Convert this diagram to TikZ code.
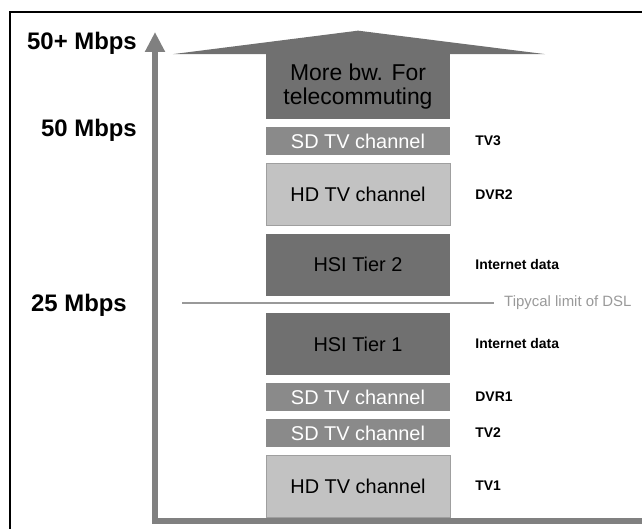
\documentclass[tikz,border=0pt]{standalone}
\usepackage{fontspec}
\setmainfont{Liberation Sans}
\usetikzlibrary{positioning,arrows.meta}

\definecolor{darkbox}{gray}{0.44}
\definecolor{midbox}{gray}{0.54}
\definecolor{lightbox}{gray}{0.76}
\definecolor{axisgray}{gray}{0.5}
\definecolor{dslgray}{gray}{0.6}

\tikzset{
  chan/.style={rectangle,minimum width=184bp,inner sep=0pt,font=\fontsize{20}{22}\selectfont},
  sd/.style={chan,fill=midbox,text=white,minimum height=27.5bp},
  hd/.style={chan,fill=lightbox,draw=gray!75,minimum height=62bp},
  hsi/.style={chan,fill=darkbox,minimum height=62bp},
  usage/.style={inner sep=0pt,font=\bfseries\fontsize{14}{16}\selectfont},
  rate/.style={anchor=east,inner sep=0pt,font=\bfseries\fontsize{24}{26}\selectfont},
  axis/.style={draw=axisgray,line width=6bp,line join=miter,-{Triangle[width=19bp,length=20bp]}},
}

\begin{document}
\begin{tikzpicture}[x=1bp,y=-1bp,node distance=8bp]
\useasboundingbox (0,0) rectangle (642,529);
\draw[line width=1.2bp] (10,529) -- (10,12) -- (642,12);

% axis
\coordinate (top) at (155,32);
\coordinate (origin) at (155,521);
\coordinate (far) at (642,521);
\draw[axis] (far) -- (origin) -- (top);

\node[rate](r50p) at (137,43) {50+ Mbps};
\node[rate](r50) at (137,130) {50 Mbps};
\node[rate](r25) at (127,305) {25 Mbps};

% channels
\node[sd](sd3) at (358,141) {SD TV channel};
\node[hd](hd2)[below=of sd3] {HD TV channel};
\node[hsi](hsi2)[below=of hd2] {HSI Tier 2};
\node[hsi](hsi1)[below=17bp of hsi2] {HSI Tier 1};
\node[sd](sd1)[below=of hsi1] {SD TV channel};
\node[sd](sd2)[below=of sd1] {SD TV channel};
\node[hd](hd1)[below=of sd2] {HD TV channel};

% top arrow
\node[hsi,minimum height=65bp,align=center,font=\fontsize{23}{24}\selectfont](more)[above=of sd3] {More bw. For\\telecommuting};
\fill[darkbox] ([xshift=-93bp,yshift=-0.5bp]more.north west) -- ([yshift=23bp]more.north)
  -- ([xshift=95bp,yshift=-0.5bp]more.north east) -- cycle;

\node[usage](tv3)[right=25bp of sd3] {TV3};
\node[usage](dvr2)[right=25bp of hd2] {DVR2};
\node[usage](net2)[right=25bp of hsi2] {Internet data};
\node[usage](net1)[right=25bp of hsi1] {Internet data};
\node[usage](dvr1)[right=25bp of sd1] {DVR1};
\node[usage](tv2)[right=25bp of sd2] {TV2};
\node[usage](tv1)[right=25bp of hd1] {TV1};

% DSL limit
\coordinate (dslstart) at (182,303);
\node[anchor=west,inner xsep=10bp,inner ysep=0pt,text=dslgray,font=\fontsize{15}{17}\selectfont](dsl) at (494,303) {Tipycal limit of DSL};
\draw[dslgray,line width=1.2bp] (dslstart) -- (dsl.west);
\end{tikzpicture}
\end{document}
